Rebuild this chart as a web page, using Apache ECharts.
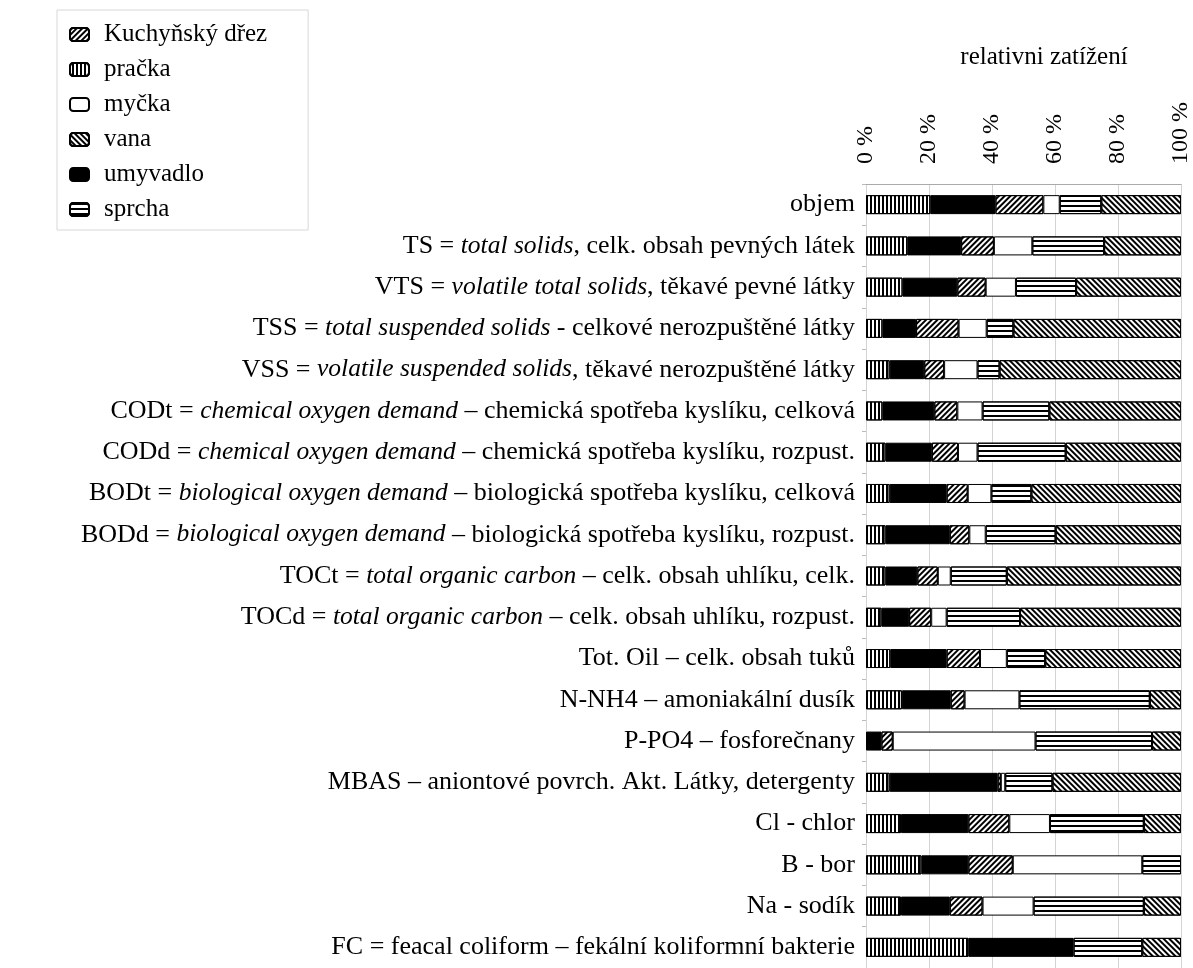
<!DOCTYPE html>
<html>
<head>
<meta charset="utf-8">
<script src="https://cdn.jsdelivr.net/npm/echarts@6/dist/echarts.min.js"></script>
<style>
html,body{margin:0;padding:0;background:#fff;}
#chart{width:1193px;height:968px;}
</style>
</head>
<body>
<div id="chart"></div>
<script>
// ---- data ----
var categories = [
  'objem',
  'TS = total solids, celk. obsah pevných látek',
  'VTS = volatile total solids, těkavé pevné látky',
  'TSS = total suspended solids - celkové nerozpuštěné látky',
  'VSS = volatile suspended solids, těkavé nerozpuštěné látky',
  'CODt = chemical oxygen demand – chemická spotřeba kyslíku, celková',
  'CODd = chemical oxygen demand – chemická spotřeba kyslíku, rozpust.',
  'BODt = biological oxygen demand – biologická spotřeba kyslíku, celková',
  'BODd = biological oxygen demand – biologická spotřeba kyslíku, rozpust.',
  'TOCt = total organic carbon – celk. obsah uhlíku, celk.',
  'TOCd = total organic carbon – celk. obsah uhlíku, rozpust.',
  'Tot. Oil – celk. obsah tuků',
  'N-NH4 – amoniakální dusík',
  'P-PO4 – fosforečnany',
  'MBAS – aniontové povrch. Akt. Látky, detergenty',
  'Cl - chlor',
  'B - bor',
  'Na - sodík',
  'FC = feacal coliform – fekální koliformní bakterie'
];
var italicTerms = [
  '', 'total solids', 'volatile total solids', 'total suspended solids',
  'volatile suspended solids', 'chemical oxygen demand', 'chemical oxygen demand',
  'biological oxygen demand', 'biological oxygen demand', 'total organic carbon',
  'total organic carbon', '', '', '', '', '', '', '', ''
];
var legendOrder = ['Kuchyňský dřez', 'pračka', 'myčka', 'vana', 'umyvadlo', 'sprcha'];
var xTicks = [0, 20, 40, 60, 80, 100];

// stacked left -> right: pračka, umyvadlo, Kuchyňský dřez, myčka, sprcha, vana (percent)
var pracka    = [20.4, 13.1, 11.6, 5.2, 7.5, 5.2, 6.2, 7.5, 6.2, 6.2, 4.9, 7.7, 11.4, 0, 7.5, 11.1, 17.6, 11.1, 32.5];
var umyvadlo  = [20.7, 17.1, 17.4, 10.7, 11.0, 16.5, 14.7, 18.1, 20.4, 10.1, 8.8, 17.9, 15.5, 4.9, 34.3, 21.4, 14.9, 15.5, 33.4];
var drez      = [15.2, 10.4, 9.0, 13.5, 6.3, 7.3, 8.3, 6.7, 6.2, 6.5, 7.0, 10.6, 4.4, 3.6, 1.0, 13.0, 14.1, 10.4, 0];
var mycka     = [5.2, 12.2, 9.6, 8.9, 10.6, 8.0, 6.2, 7.5, 5.2, 4.1, 4.9, 8.5, 17.4, 45.3, 1.4, 12.9, 41.1, 16.2, 0];
var sprcha    = [13.2, 22.8, 19.1, 8.5, 7.0, 21.2, 28.0, 12.7, 22.2, 17.8, 23.3, 12.2, 41.4, 37.0, 15.0, 29.8, 12.3, 35.0, 21.8];
var vana      = [25.3, 24.4, 33.3, 53.2, 57.6, 41.8, 36.6, 47.5, 39.8, 55.3, 51.1, 43.1, 9.9, 9.2, 40.8, 11.8, 0, 11.8, 12.3];

// ---- styles ----
var SERIF = '"Liberation Serif", "Times New Roman", serif';
var FS = 25;
function stripes(rot, dy) {
  return { symbol: 'rect', symbolSize: 1, symbolKeepAspect: false, color: '#000',
           dashArrayX: [[10, 0]], dashArrayY: dy, rotation: rot };
}
var seriesDefs = [
  { name: 'pračka', data: pracka, color: '#fff', decal: stripes(Math.PI / 2, [2, 2]) },
  { name: 'umyvadlo', data: umyvadlo, color: '#000', decal: null },
  { name: 'Kuchyňský dřez', data: drez, color: '#fff', decal: stripes(-Math.PI / 4, [2, 2]) },
  { name: 'myčka', data: mycka, color: '#fff', decal: null },
  { name: 'sprcha', data: sprcha, color: '#fff', decal: stripes(0, [2, 3]) },
  { name: 'vana', data: vana, color: '#fff', decal: stripes(Math.PI / 4, [2, 2]) }
];

function labelFmt(value) {
  var idx = categories.indexOf(value);
  var it = idx >= 0 ? italicTerms[idx] : '';
  if (!it) return '{r|' + value + '}';
  var p = value.indexOf(it);
  var pre = value.slice(0, p), post = value.slice(p + it.length);
  return (pre ? '{r|' + pre + '}' : '') + '{i|' + it + '}' + (post ? '{r|' + post + '}' : '');
}

var chart = echarts.init(document.getElementById('chart'));
chart.setOption({
  animation: false,
  backgroundColor: '#fff',
  textStyle: { fontFamily: SERIF },
  title: {
    text: 'relativni zatížení',
    left: 1039, top: 40, textAlign: 'center',
    textStyle: { fontFamily: SERIF, fontSize: FS, fontWeight: 'normal', color: '#000' }
  },
  legend: {
    orient: 'vertical',
    left: 57, top: 10,
    padding: [12, 41, 8, 12],
    itemGap: 10,
    itemWidth: 19, itemHeight: 13,
    icon: 'roundRect',
    borderColor: '#d8d8d8', borderWidth: 1,
    data: legendOrder,
    textStyle: { fontFamily: SERIF, fontSize: FS, color: '#000', padding: [0, 0, 0, 10], lineHeight: 25 }
  },
  grid: { left: 866, top: 184, right: 5, height: 795, containLabel: false },
  xAxis: {
    type: 'value', position: 'top', min: xTicks[0], max: xTicks[xTicks.length - 1], interval: 20,
    axisLine: { show: true, lineStyle: { color: '#aaa', width: 1 } },
    axisTick: { show: false },
    splitLine: { show: true, lineStyle: { color: '#d4d4d4', width: 1 } },
    axisLabel: { rotate: -90, margin: 20, formatter: '{value} %', fontFamily: SERIF, fontSize: 24, color: '#000' }
  },
  yAxis: {
    type: 'category', inverse: true, data: categories,
    axisLine: { show: false },
    axisTick: { show: true, length: 4, lineStyle: { color: '#bbb' } },
    axisLabel: {
      margin: 11, formatter: labelFmt, color: '#000',
      rich: {
        r: { fontFamily: SERIF, fontSize: 26, color: '#000' },
        i: { fontFamily: SERIF, fontSize: 25.5, fontStyle: 'italic', color: '#000' }
      }
    }
  },
  series: seriesDefs.map(function (s) {
    return {
      name: s.name, type: 'bar', stack: 'total', barWidth: 19,
      data: s.data.map(function (v) { return v === 0 ? '-' : v; }),
      itemStyle: { color: s.color, borderColor: '#000', borderWidth: 1, decal: s.decal || undefined },
      emphasis: { disabled: true }
    };
  })
});
</script>
</body>
</html>
